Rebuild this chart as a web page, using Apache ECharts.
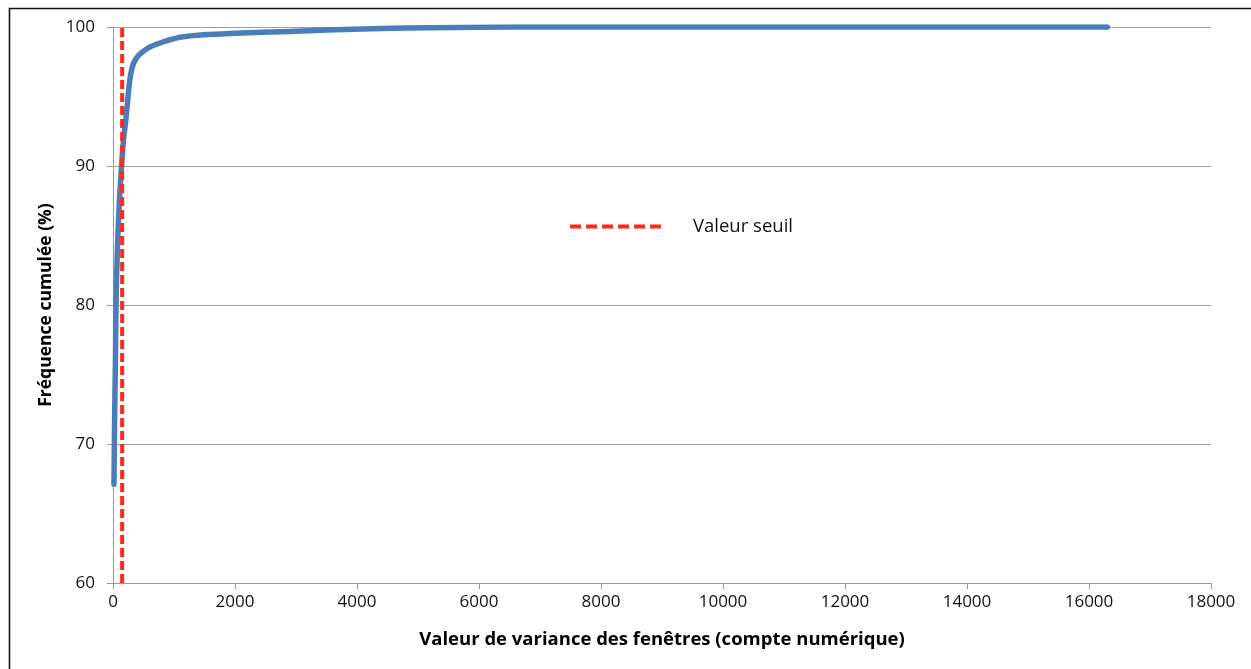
<!DOCTYPE html>
<html>
<head>
<meta charset="utf-8">
<script src="https://cdn.jsdelivr.net/npm/echarts@6/dist/echarts.min.js"></script>
<style>
  html, body { margin: 0; padding: 0; background: #fff; }
  #chart { width: 1251px; height: 669px; }
</style>
</head>
<body>
<div id="chart"></div>
<script>
// Cumulative frequency of window variance values
const varianceValues = [16, 22, 30, 40, 49, 62, 80, 105, 140, 175, 210, 240, 265, 290, 330, 390, 470, 600, 770, 950, 1125, 1430, 2000, 2900, 3500, 4400, 5200, 6000, 7100, 10000, 16300];
const cumulativePct  = [67.1, 70, 73, 76, 80, 82.5, 85, 87.5, 90, 92, 93.3, 94.7, 95.8, 96.6, 97.3, 97.8, 98.15, 98.55, 98.85, 99.1, 99.28, 99.42, 99.55, 99.68, 99.78, 99.9, 99.95, 99.98, 100, 100, 100];

// Threshold (valeur seuil)
const thresholdValue = 150;
const thresholdSpan = [60, 100];

const xTicks = { min: 0, max: 18000, step: 2000 };
const yTicks = { min: 60, max: 100, step: 10 };

const font = '"Open Sans", Lato, sans-serif';

const curve = varianceValues.map((v, i) => [v, cumulativePct[i]]);
const threshold = thresholdSpan.map(p => [thresholdValue, p]);

const chart = echarts.init(document.getElementById('chart'));
chart.setOption({
  animation: false,
  backgroundColor: '#ffffff',
  textStyle: { fontFamily: font },
  grid: { left: 113, right: 40, top: 27, bottom: 86, containLabel: false },
  graphic: [{
    type: 'rect',
    shape: { x: 9.5, y: 8.5, width: 1260, height: 680 },
    style: { fill: 'none', stroke: '#111111', lineWidth: 1.6 },
    silent: true
  }],
  legend: {
    data: ['Valeur seuil'],
    left: 563,
    top: 212,
    itemWidth: 92,
    itemHeight: 22,
    itemStyle: { opacity: 0 },
    lineStyle: { color: '#ff2a1a', width: 4, type: [11, 5] },
    textStyle: { fontFamily: font, fontSize: 18.5, color: '#111', padding: [0, 0, 0, 26] }
  },
  xAxis: {
    type: 'value',
    min: xTicks.min, max: xTicks.max, interval: xTicks.step,
    name: 'Valeur de variance des fenêtres (compte numérique)',
    nameLocation: 'middle',
    nameGap: 47,
    nameTextStyle: { fontFamily: font, fontSize: 18.5, fontWeight: 'bold', color: '#000' },
    axisLine: { show: true, lineStyle: { color: '#9a9a9a', width: 1 } },
    axisTick: { show: true, length: 6, lineStyle: { color: '#9a9a9a' } },
    axisLabel: { fontFamily: font, fontSize: 17, color: '#111', margin: 11, formatter: v => String(v) },
    splitLine: { show: false }
  },
  yAxis: {
    type: 'value',
    min: yTicks.min, max: yTicks.max, interval: yTicks.step,
    name: 'Fréquence cumulée (%)',
    nameLocation: 'middle',
    nameGap: 52,
    nameTextStyle: { fontFamily: font, fontSize: 17.5, fontWeight: 'bold', color: '#000' },
    axisLine: { show: true, lineStyle: { color: '#9a9a9a', width: 1 } },
    axisTick: { show: true, length: 6, lineStyle: { color: '#9a9a9a' } },
    axisLabel: { fontFamily: font, fontSize: 17, color: '#111', margin: 18 },
    splitLine: { show: true, lineStyle: { color: '#a0a0a0', width: 1 } }
  },
  series: [
    {
      name: 'Fréquence cumulée',
      type: 'line',
      data: curve,
      symbol: 'none',
      smooth: 0.25,
      lineStyle: { color: '#4a7ebb', width: 5.5, cap: 'round', join: 'round' },
      z: 2
    },
    {
      name: 'Valeur seuil',
      type: 'line',
      data: threshold,
      symbol: 'none',
      color: '#ff2a1a',
      lineStyle: { color: '#ff2a1a', width: 4, type: [9, 4] },
      z: 3
    }
  ]
});
</script>
</body>
</html>
